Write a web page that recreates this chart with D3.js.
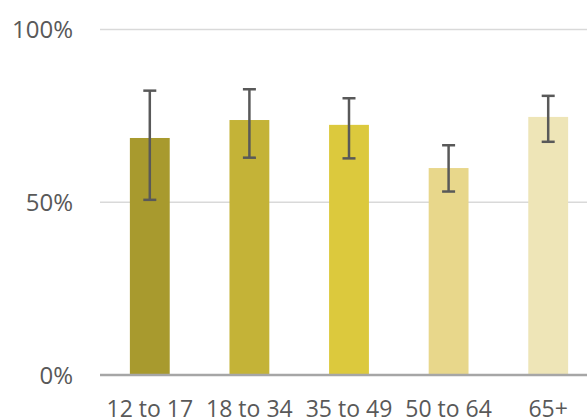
<!DOCTYPE html>
<html>
<head>
<meta charset="utf-8">
<script src="https://cdn.jsdelivr.net/npm/d3@7"></script>
<style>
  html, body { margin: 0; padding: 0; background: #ffffff; }
  svg { display: block; }
</style>
</head>
<body>
<svg id="chart" width="587" height="418"></svg>
<script>
const categories = ["12 to 17", "18 to 34", "35 to 49", "50 to 64", "65+"];
const values = [0.686, 0.738, 0.724, 0.599, 0.747];
const errLow = [0.507, 0.629, 0.627, 0.531, 0.675];
const errHigh = [0.823, 0.827, 0.801, 0.665, 0.808];
const colors = ["#A89A2E", "#C4B337", "#DCC93D", "#E8D78B", "#EEE5B7"];
const yTicks = [0, 0.5, 1];

(function () {
const svg = d3.select("#chart");
const W = 587;
const mLeft = 100, mRight = 598, mTop = 29.5, mBottom = 375;

const x = d3.scaleBand().domain(categories).range([mLeft, mRight]).paddingInner(0.6).paddingOuter(0.3);
const y = d3.scaleLinear().domain([0, 1]).range([mBottom, mTop]);

// gridlines
svg.append("g").selectAll("line").data(yTicks.filter(d => d > 0)).join("line")
  .attr("x1", mLeft).attr("x2", W)
  .attr("y1", d => y(d)).attr("y2", d => y(d))
  .attr("stroke", "#D9D9D9").attr("stroke-width", 1.5);

// y labels
svg.append("g").selectAll("text").data(yTicks).join("text")
  .attr("x", 73).attr("y", d => y(d)).attr("dy", "0.36em")
  .attr("text-anchor", "end")
  .attr("font-family", "'Open Sans', sans-serif").attr("font-size", 24)
  .attr("fill", "#595959")
  .text(d => d3.format(".0%")(d));

// bars
svg.append("g").selectAll("rect").data(categories).join("rect")
  .attr("x", d => x(d)).attr("width", x.bandwidth())
  .attr("y", (d, i) => y(values[i])).attr("height", (d, i) => y(0) - y(values[i]))
  .attr("fill", (d, i) => colors[i]);

// axis line
svg.append("line").attr("x1", mLeft).attr("x2", W).attr("y1", y(0)).attr("y2", y(0))
  .attr("stroke", "#A6A6A6").attr("stroke-width", 2.5);

// error bars
const eg = svg.append("g").attr("stroke", "#595959").attr("stroke-width", 2.5);
categories.forEach((c, i) => {
  const cx = x(c) + x.bandwidth() / 2;
  eg.append("line").attr("x1", cx).attr("x2", cx).attr("y1", y(errLow[i])).attr("y2", y(errHigh[i]));
  eg.append("line").attr("x1", cx - 6.5).attr("x2", cx + 6.5).attr("y1", y(errLow[i])).attr("y2", y(errLow[i]));
  eg.append("line").attr("x1", cx - 6.5).attr("x2", cx + 6.5).attr("y1", y(errHigh[i])).attr("y2", y(errHigh[i]));
});

// x labels
svg.append("g").selectAll("text").data(categories).join("text")
  .attr("x", d => x(d) + x.bandwidth() / 2).attr("y", 417)
  .attr("text-anchor", "middle")
  .attr("font-family", "'Open Sans', sans-serif").attr("font-size", 23)
  .attr("fill", "#595959")
  .text(d => d);
})();
</script>
</body>
</html>
